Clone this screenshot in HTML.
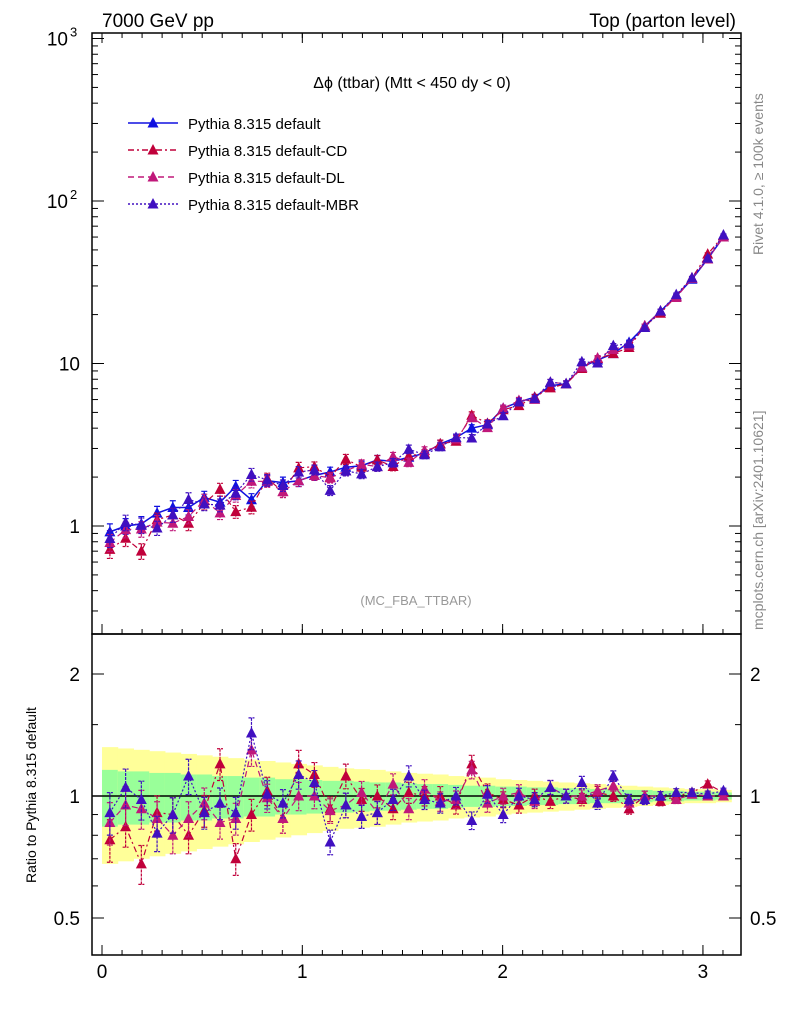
<!DOCTYPE html>
<html><head><meta charset="utf-8">
<style>
html,body{margin:0;padding:0;background:#fff;}
svg text{font-family:"Liberation Sans",sans-serif;}
</style></head>
<body>
<svg id="chart" width="786" height="1024" xmlns="http://www.w3.org/2000/svg">
<text x="102" y="27" font-size="19">7000 GeV pp</text>
<text x="736" y="27" font-size="19" text-anchor="end">Top (parton level)</text>
<text x="412" y="88" font-size="16" text-anchor="middle">Δϕ (ttbar) (Mtt &lt; 450 dy &lt; 0)</text>
<text x="416" y="605" font-size="13" fill="#999" text-anchor="middle">(MC_FBA_TTBAR)</text>
<text transform="translate(763,255) rotate(-90)" font-size="14" fill="#888">Rivet 4.1.0, ≥ 100k events</text>
<text transform="translate(763,630) rotate(-90)" font-size="14" fill="#888">mcplots.cern.ch [arXiv:2401.10621]</text>
<text transform="translate(36,795) rotate(-90)" font-size="14" text-anchor="middle">Ratio to Pythia 8.315 default</text>
<g id="plot"></g>
</svg>
<script>
const categories = Array.from({length:40},(_,i)=>(i+0.5)*Math.PI/40);
const defaultVals = [0.92,1.0,1.03,1.2,1.3,1.3,1.5,1.4,1.75,1.45,1.9,1.85,1.9,2.05,2.15,2.3,2.35,2.55,2.5,2.65,2.8,3.2,3.5,4.0,4.2,5.3,5.8,6.2,7.3,7.5,9.5,10.5,11.5,13.5,17,21,26,33,44,60];
const ratioCD = [0.78,0.84,0.68,0.91,0.9,0.8,0.92,1.2,0.7,0.9,1.03,0.88,1.2,1.13,0.93,1.12,0.98,1.0,0.93,1.02,1.0,1.0,0.95,1.2,1.02,0.98,0.95,1.0,0.97,1.0,0.98,1.02,1.0,0.93,1.0,0.97,1.0,1.02,1.07,1.02];
const ratioDL = [0.86,0.95,0.93,0.88,0.8,0.88,0.96,0.86,0.88,1.3,0.99,0.88,1.0,1.0,0.92,0.95,1.02,0.91,1.07,0.93,1.04,0.97,0.98,1.16,0.96,1.0,1.02,0.97,1.05,1.0,1.0,1.03,1.06,0.96,1.0,1.0,0.98,1.01,1.0,1.0];
const ratioMBR = [0.91,1.05,0.98,0.81,0.9,1.12,0.91,0.96,0.91,1.43,1.01,0.96,1.13,1.08,0.77,0.95,0.89,0.91,0.98,1.12,0.98,0.96,1.0,0.87,1.01,0.9,1.0,0.98,1.05,1.0,1.08,0.96,1.12,0.98,0.98,1.0,1.02,1.02,1.01,1.03];
const relErr = [0.12,0.11,0.11,0.1,0.1,0.1,0.09,0.09,0.09,0.09,0.08,0.08,0.08,0.07,0.07,0.07,0.065,0.065,0.06,0.06,0.055,0.055,0.05,0.05,0.05,0.045,0.045,0.04,0.04,0.04,0.035,0.035,0.03,0.03,0.028,0.025,0.022,0.02,0.018,0.015];
const greenBand = [0.16,0.15,0.15,0.14,0.14,0.13,0.13,0.12,0.12,0.11,0.11,0.1,0.1,0.095,0.09,0.09,0.085,0.08,0.08,0.075,0.07,0.07,0.065,0.06,0.06,0.055,0.055,0.05,0.05,0.045,0.045,0.04,0.04,0.035,0.035,0.03,0.03,0.025,0.025,0.02];
const yellowBand = [0.32,0.31,0.3,0.29,0.28,0.27,0.26,0.25,0.24,0.23,0.22,0.21,0.2,0.19,0.18,0.17,0.165,0.16,0.15,0.14,0.135,0.13,0.12,0.115,0.11,0.1,0.095,0.09,0.085,0.08,0.075,0.07,0.065,0.06,0.055,0.05,0.045,0.04,0.04,0.035];
const xTicks = [0,1,2,3];
const yTicks = [{v:1,b:"1",s:""},{v:10,b:"10",s:""},{v:100,b:"10",s:"2"},{v:1000,b:"10",s:"3"}];
const rTicks = [{v:0.5,l:"0.5"},{v:1,l:"1"},{v:2,l:"2"}];

const L=92,R=741,T=33,MB=634,RB=955;
const xs=v=>L+(v+0.05)/(3.19+0.05)*(R-L);
const ys=v=>526-Math.log10(v)*162.5;
const yr=v=>796-Math.log2(v)*122;
const NS="http://www.w3.org/2000/svg";
const g=document.getElementById('plot');
function el(tag,attrs,parent){const e=document.createElementNS(NS,tag);for(const k in attrs)e.setAttribute(k,attrs[k]);(parent||g).appendChild(e);return e;}

const bw=Math.PI/40;
categories.forEach((c,i)=>{
  const x0=xs(c-bw/2),x1=xs(c+bw/2);
  const e2=yellowBand[i], e1=greenBand[i];
  const yb=el('rect',{x:x0,y:yr(1+e2),width:x1-x0+0.5,height:yr(1-e2)-yr(1+e2),fill:'#ffff99'});
  
  
  const gb=el('rect',{x:x0,y:yr(1+e1),width:x1-x0+0.5,height:yr(1-e1)-yr(1+e1),fill:'#99ff99'});
  
  
});
const ref=el('line',{x1:L,x2:R,y1:yr(1),y2:yr(1),stroke:'#000','stroke-width':1.5});



const series=[
 {name:'default',color:'#1010e0',dash:'',ratios:categories.map(()=>1)},
 {name:'default-cd',color:'#c0003a',dash:'6,3,2,3',ratios:ratioCD},
 {name:'default-dl',color:'#c0187a',dash:'6,4',ratios:ratioDL},
 {name:'default-mbr',color:'#4010c0',dash:'2,2',ratios:ratioMBR}
];
function tri(x,y,color,name){const p=el('polygon',{points:`${x},${y-6} ${x-5.5},${y+4.5} ${x+5.5},${y+4.5}`,fill:color});
 
 }
series.forEach(s=>{
  const main=categories.map((c,i)=>defaultVals[i]*s.ratios[i]);
  const lw=s.name==='default'?1.5:1.2;
  const pl=el('polyline',{points:categories.map((c,i)=>xs(c)+','+ys(main[i])).join(' '),fill:'none',stroke:s.color,'stroke-width':lw,'stroke-dasharray':s.dash});
  
  
  if(s.name!=='default'){
    const rl=el('polyline',{points:categories.map((c,i)=>xs(c)+','+yr(s.ratios[i])).join(' '),fill:'none',stroke:s.color,'stroke-width':lw,'stroke-dasharray':s.dash});
    
    
  }
  categories.forEach((c,i)=>{
    const x=xs(c),v=main[i],e=v*relErr[i];
    const eb=el('path',{d:`M${x},${ys(v+e)}V${ys(v-e)}M${x-3},${ys(v+e)}h6M${x-3},${ys(v-e)}h6`,stroke:s.color,'stroke-width':1.2,fill:'none','stroke-dasharray':s.dash?'3,1':''});
    
    
    tri(x,ys(v),s.color,'point-'+s.name);
    const r=s.ratios[i],re=r*relErr[i];
    if(s.name!=='default'){
      const rb=el('path',{d:`M${x},${yr(r+re)}V${yr(r-re)}M${x-3},${yr(r+re)}h6M${x-3},${yr(r-re)}h6`,stroke:s.color,'stroke-width':1.2,fill:'none','stroke-dasharray':'3,1'});
      
      
      tri(x,yr(r),s.color,'ratio-point-'+s.name);
    }
  });
});

[[T,MB],[MB,RB]].forEach(([a,b],k)=>{
  const f=el('rect',{x:L,y:a,width:R-L,height:b-a,fill:'none',stroke:'#000','stroke-width':1.5});
  
  
});
xTicks.forEach(t=>{
  const x=xs(t);
  [MB,RB].forEach(yb=>{el('line',{x1:x,x2:x,y1:yb,y2:yb-10,stroke:'#000'});});
  el('line',{x1:x,x2:x,y1:T,y2:T+10,stroke:'#000'});
  const tx=el('text',{x:x,y:978,'font-size':19,'text-anchor':'middle'});tx.textContent=t;
  
  
});
for(let v=0;v<=3.19;v+=0.1){const x=xs(v);[MB,RB].forEach(yb=>el('line',{x1:x,x2:x,y1:yb,y2:yb-5,stroke:'#000'}));el('line',{x1:x,x2:x,y1:T,y2:T+5,stroke:'#000'});}
yTicks.forEach(t=>{
  const y=ys(t.v);
  el('line',{x1:L,x2:L+12,y1:y,y2:y,stroke:'#000'});el('line',{x1:R,x2:R-12,y1:y,y2:y,stroke:'#000'});
  const tx=el('text',{x:t.s?68:80,y:y+7,'font-size':19,'text-anchor':'end'});tx.textContent=t.b;
  
  
  if(t.s){const sp=el('text',{x:70,y:y-2,'font-size':13});sp.textContent=t.s;
    
    }
});
for(let d=-1;d<3;d++)for(let m=2;m<10;m++){const v=m*Math.pow(10,d),y=ys(v);if(y<T||y>MB)continue;
  el('line',{x1:L,x2:L+6,y1:y,y2:y,stroke:'#000'});el('line',{x1:R,x2:R-6,y1:y,y2:y,stroke:'#000'});}
rTicks.forEach(t=>{
  const y=yr(t.v);
  el('line',{x1:L,x2:L+12,y1:y,y2:y,stroke:'#000'});el('line',{x1:R,x2:R-12,y1:y,y2:y,stroke:'#000'});
  const a=el('text',{x:80,y:y+7,'font-size':19,'text-anchor':'end'});a.textContent=t.l;
  
  
  const b=el('text',{x:750,y:y+7,'font-size':19});b.textContent=t.l;
  
  
});
[0.4,0.6,0.7,0.8,0.9,1.5,3].forEach(v=>{const y=yr(v);if(y<MB||y>RB)return;
  el('line',{x1:L,x2:L+6,y1:y,y2:y,stroke:'#000'});el('line',{x1:R,x2:R-6,y1:y,y2:y,stroke:'#000'});});

const legendLabels=['Pythia 8.315 default','Pythia 8.315 default-CD','Pythia 8.315 default-DL','Pythia 8.315 default-MBR'];
series.forEach((s,i)=>{
  const y=123+i*27;
  const ln=el('line',{x1:128,x2:178,y1:y,y2:y,stroke:s.color,'stroke-width':1.5,'stroke-dasharray':s.dash});
  
  
  tri(153,y,s.color,'legend-marker');
  const t=el('text',{x:188,y:y+6,'font-size':15});t.textContent=legendLabels[i];
  
  
});
</script>
</body></html>
